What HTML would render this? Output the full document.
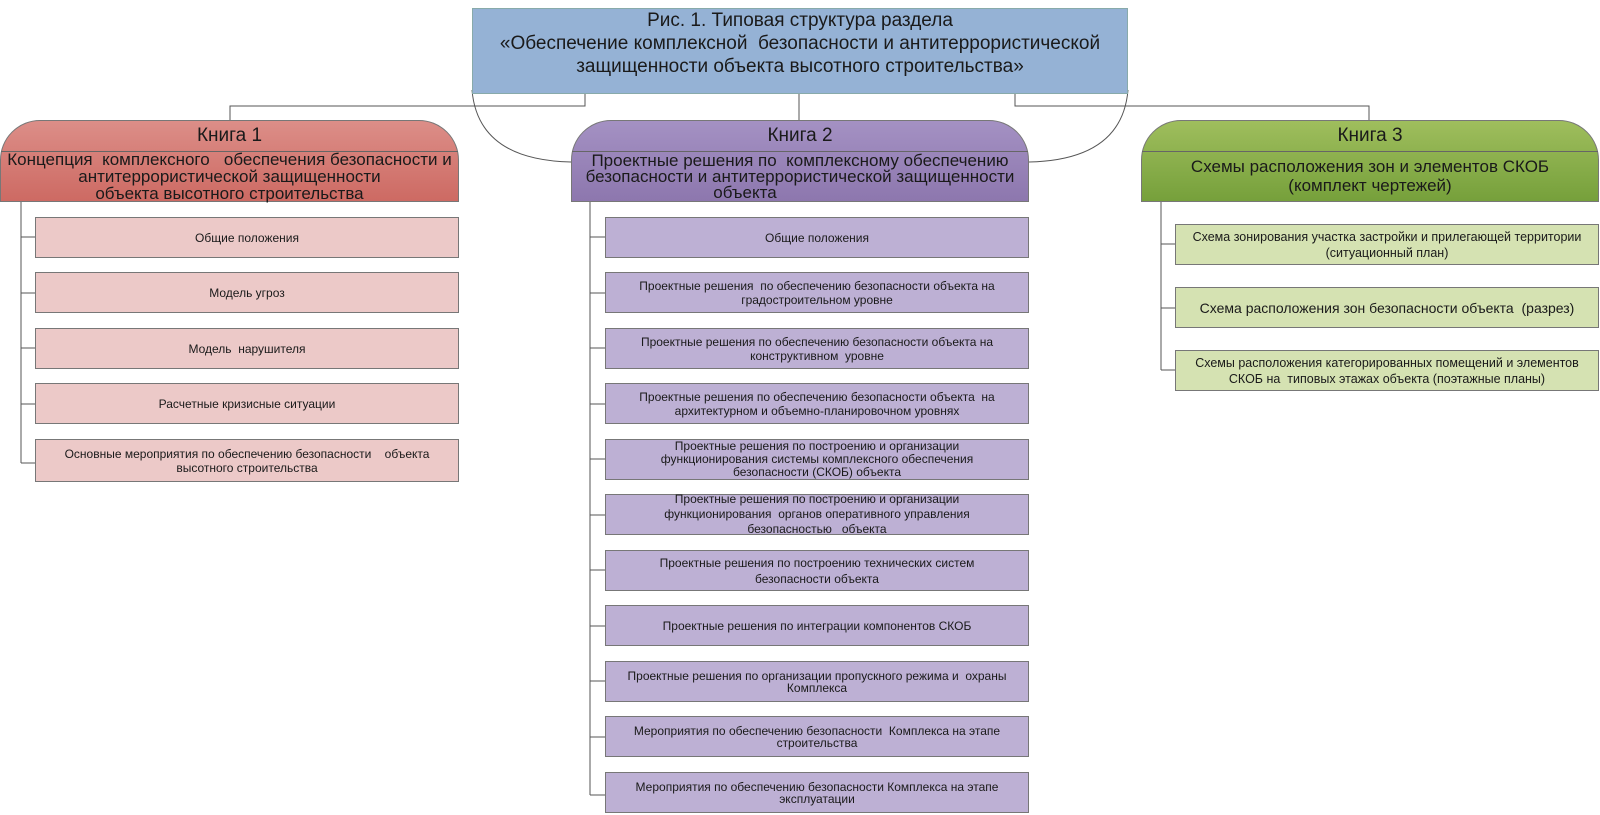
<!DOCTYPE html>
<html><head><meta charset="utf-8"><style>
body{margin:0;width:1600px;height:815px;background:#fff;position:relative;overflow:hidden;font-family:"Liberation Sans",sans-serif;color:#1a1a1a}
.a{position:absolute;box-sizing:border-box;display:flex;align-items:center;justify-content:center;text-align:center}
.n{font-family:"Liberation Sans Narrow","Liberation Sans",sans-serif}
.hd{position:absolute;box-sizing:border-box;border:1px solid #777;border-radius:40px 40px 0 0;top:120px;height:82px}
.hd .t{position:absolute;left:0;right:0;top:0;height:30px;border-bottom:1px solid #666;display:flex;align-items:center;justify-content:center;font-size:19px}
.hd .d{position:absolute;left:0;right:0;top:30px;bottom:0;display:flex;align-items:center;justify-content:center;text-align:center;font-size:17px;line-height:17px}
.it{height:41px;border:1px solid #777;font-size:12px;line-height:14px;padding:0 4px}
.p{background:#ecc9c8;left:35px;width:424px}
.v{background:#bdb0d4;left:605px;width:424px}
.g{background:#d5e2b2;left:1175px;width:424px;height:41px;border:1px solid #777;font-size:12.5px;line-height:16px}
</style></head><body>
<svg width="1600" height="815" style="position:absolute;left:0;top:0">
<g stroke="#555" stroke-width="1" fill="none">
<path d="M585 94V106H230V120"/><path d="M799 94V120"/><path d="M1015 94V106H1369V120"/>
<path d="M472 90 Q478 160 571 162"/><path d="M1128 90 Q1122 160 1029 162"/>
<path d="M21 202V463M21 237H35M21 293H35M21 348H35M21 404H35M21 463H35"/>
<path d="M590 202V795M590 237H605M590 293H605M590 348H605M590 404H605M590 459H605M590 515H605M590 570H605M590 626H605M590 681H605M590 737H605M590 795H605"/>
<path d="M1161 202V370M1161 244H1175M1161 308H1175M1161 370H1175"/>
</g></svg>
<div class="a n" style="left:472px;top:8px;width:656px;height:86px;background:#95b2d5;border:1px solid #8aa;font-size:19px;line-height:23px;align-items:flex-start;padding-top:0">Рис. 1. Типовая структура раздела<br>«Обеспечение комплексной&nbsp; безопасности и антитеррористической<br>защищенности объекта высотного строительства»</div>

<div class="hd n" style="left:0;width:459px;background:linear-gradient(#dc8e88,#cd6a63)"><div class="t">Книга 1</div><div class="d">Концепция&nbsp; комплексного&nbsp;&nbsp; обеспечения безопасности и<br>антитеррористической защищенности<br>объекта высотного строительства</div></div>
<div class="hd n" style="left:571px;width:458px;background:linear-gradient(#a491c3,#8d77ae)"><div class="t">Книга 2</div><div class="d" style="display:block;padding-top:2px;line-height:16px;text-align:center">Проектные решения по&nbsp; комплексному обеспечению<br>безопасности и антитеррористической защищенности<br><span style="margin-left:-110px">объекта</span></div></div>
<div class="hd n" style="left:1141px;width:458px;background:linear-gradient(#9fbe5d,#76a03b)"><div class="t">Книга 3</div><div class="d" style="line-height:19px">Схемы расположения зон и элементов СКОБ<br>(комплект чертежей)</div></div>

<div class="a it p n" style="top:217px">Общие положения</div>
<div class="a it p n" style="top:272px">Модель угроз</div>
<div class="a it p n" style="top:328px">Модель&nbsp; нарушителя</div>
<div class="a it p n" style="top:383px">Расчетные кризисные ситуации</div>
<div class="a it p n" style="top:439px;height:43px">Основные мероприятия по обеспечению безопасности&nbsp;&nbsp;&nbsp; объекта<br>высотного строительства</div>

<div class="a it v" style="top:217px">Общие положения</div>
<div class="a it v" style="top:272px">Проектные решения&nbsp; по обеспечению безопасности объекта на<br>градостроительном уровне</div>
<div class="a it v" style="top:328px">Проектные решения по обеспечению безопасности объекта на<br>конструктивном&nbsp; уровне</div>
<div class="a it v" style="top:383px">Проектные решения по обеспечению безопасности объекта&nbsp; на<br>архитектурном и объемно-планировочном уровнях</div>
<div class="a it v" style="top:439px;line-height:13px">Проектные решения по построению и организации<br>функционирования системы комплексного обеспечения<br>безопасности (СКОБ) объекта</div>
<div class="a it v" style="top:494px;line-height:15px">Проектные решения по построению и организации<br>функционирования&nbsp; органов оперативного управления<br>безопасностью&nbsp;&nbsp; объекта</div>
<div class="a it v" style="top:550px;line-height:16px">Проектные решения по построению технических систем<br>безопасности объекта</div>
<div class="a it v" style="top:605px">Проектные решения по интеграции компонентов СКОБ</div>
<div class="a it v" style="top:661px;line-height:12px">Проектные решения по организации пропускного режима и&nbsp; охраны<br>Комплекса</div>
<div class="a it v" style="top:716px;line-height:12px">Мероприятия по обеспечению безопасности&nbsp; Комплекса на этапе<br>строительства</div>
<div class="a it v" style="top:772px;line-height:12px">Мероприятия по обеспечению безопасности Комплекса на этапе<br>эксплуатации</div>

<div class="a g" style="top:224px">Схема зонирования участка застройки и прилегающей территории<br>(ситуационный план)</div>
<div class="a g" style="top:287px;font-size:14px">Схема расположения зон безопасности объекта&nbsp; (разрез)</div>
<div class="a g" style="top:350px">Схемы расположения категорированных помещений и элементов<br>СКОБ на&nbsp; типовых этажах объекта (поэтажные планы)</div>
</body></html>
